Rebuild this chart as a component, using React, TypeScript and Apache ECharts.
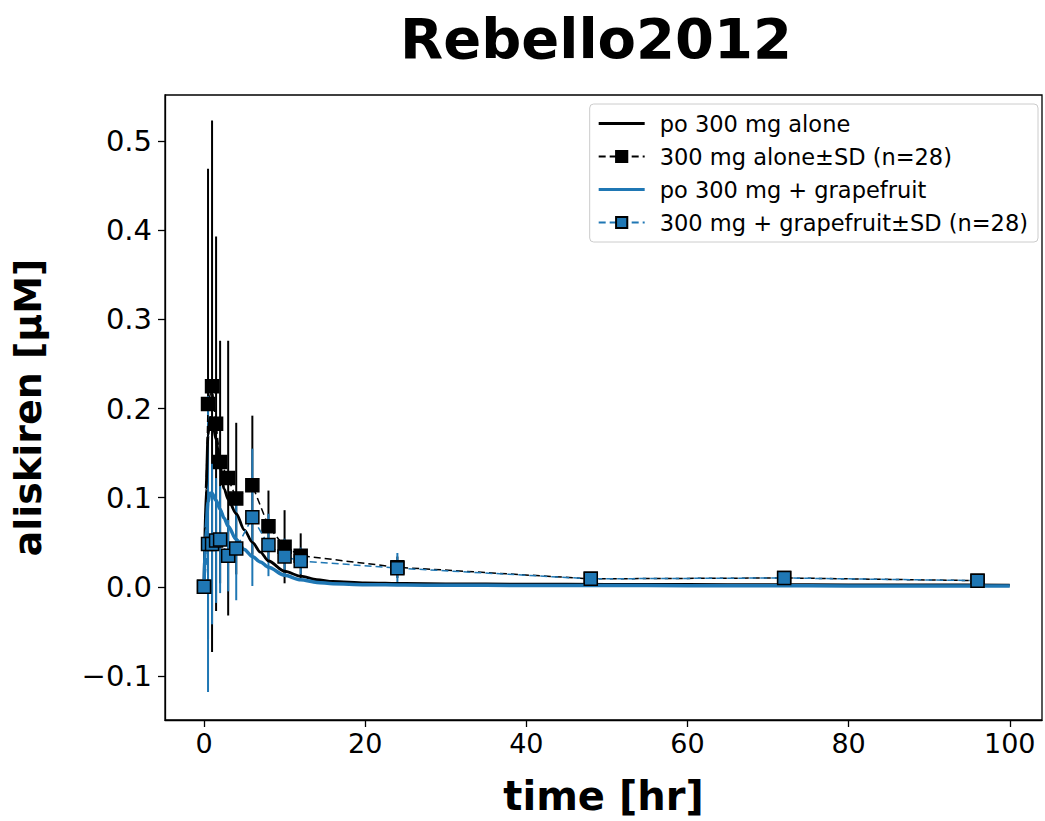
import React, { useEffect, useRef } from "react";
import * as echarts from "echarts";

// Observed sampling times [hr]
const times = [0, 0.5, 1, 1.5, 2, 3, 4, 6, 8, 10, 12, 24, 48, 72, 96];
// 300 mg alone: mean and SD [µM]
const aloneMean = [0, 0.205, 0.225, 0.183, 0.14, 0.122, 0.099, 0.114, 0.068, 0.045, 0.035, 0.022, 0.009, 0.01, 0.007];
const aloneSD = [0, 0.264, 0.298, 0.21, 0.136, 0.154, 0.085, 0.078, 0.04, 0.041, 0.025, 0.012, 0.003, 0.005, 0.003];
// 300 mg + grapefruit: mean and SD [µM]
const grapeMean = [0, 0.048, 0.048, 0.052, 0.053, 0.035, 0.043, 0.078, 0.047, 0.034, 0.029, 0.021, 0.009, 0.01, 0.007];
const grapeSD = [0, 0.166, 0.09, 0.07, 0.06, 0.04, 0.058, 0.077, 0.035, 0.02, 0.015, 0.017, 0.003, 0.006, 0.003];

// Simulated curves
const curveT = [0, 0.25, 0.5, 0.75, 1, 1.5, 2, 2.5, 3, 4, 5, 6, 7, 8, 10, 12, 14, 16, 20, 25, 30, 40, 50, 60, 70, 80, 90, 100];
const aloneCurve = [0, 0.11, 0.17, 0.19, 0.188, 0.165, 0.135, 0.11, 0.098, 0.082, 0.064, 0.05, 0.039, 0.029, 0.0175, 0.012, 0.008, 0.006, 0.0045, 0.0038, 0.0034, 0.0031, 0.0029, 0.0027, 0.0025, 0.0023, 0.0021, 0.002];
const grapeCurve = [0, 0.065, 0.095, 0.105, 0.105, 0.097, 0.087, 0.077, 0.068, 0.053, 0.042, 0.034, 0.028, 0.022, 0.013, 0.008, 0.005, 0.0035, 0.0025, 0.002, 0.0018, 0.0016, 0.0015, 0.0013, 0.0012, 0.0011, 0.001, 0.001];

const xTicks = [0, 20, 40, 60, 80, 100];
const yTicks = [-0.1, 0, 0.1, 0.2, 0.3, 0.4, 0.5];

const FONT = "DejaVu Sans";
const BLUE = "#1f77b4";
const LINE_ICON = "path://M0,0 H46 V3 H0 Z";

function errorRender(color: string) {
  return (params: any, api: any) => {
    const p1 = api.coord([api.value(0), api.value(1)]);
    const p2 = api.coord([api.value(0), api.value(2)]);
    return {
      type: "line",
      shape: { x1: p1[0], y1: p1[1], x2: p2[0], y2: p2[1] },
      style: { stroke: color, lineWidth: 2 },
    };
  };
}

export default function App() {
  const ref = useRef<HTMLDivElement>(null);
  useEffect(() => {
    if (!ref.current) return;
    const chart = echarts.init(ref.current, undefined, { renderer: "svg" });
    const zip = (a: number[], b: number[]) => a.map((v, i) => [v, b[i]]);
    const err = (m: number[], s: number[]) => times.map((t, i) => [t, m[i] - s[i], m[i] + s[i]]);
    const option: any = {
      animation: false,
      backgroundColor: "#fff",
      title: {
        text: "Rebello2012",
        left: 591,
        top: 5,
        textAlign: "center",
        textStyle: { fontFamily: FONT, fontWeight: "bold", fontSize: 56, color: "#000" },
      },
      grid: {
        left: 165,
        right: 3,
        top: 95,
        bottom: 101,
        show: true,
        borderColor: "#000",
        borderWidth: 1.3,
        containLabel: false,
      },
      legend: {
        orient: "vertical",
        right: 7,
        top: 104,
        padding: [8, 10, 8, 8],
        itemGap: 10,
        itemWidth: 46,
        itemHeight: 14,
        borderColor: "#cccccc",
        borderWidth: 1,
        borderRadius: 4,
        backgroundColor: "rgba(255,255,255,0.85)",
        textStyle: { fontFamily: FONT, fontSize: 22.5, color: "#000", padding: [0, 0, 0, 10] },
        data: [
          { name: "po 300 mg alone", icon: LINE_ICON },
          { name: "300 mg alone±SD (n=28)" },
          { name: "po 300 mg + grapefruit", icon: LINE_ICON },
          { name: "300 mg + grapefruit±SD (n=28)" },
        ],
      },
      xAxis: {
        type: "value",
        min: -4.84,
        max: 104.0,
        name: "time [hr]",
        nameLocation: "middle",
        nameGap: 56,
        nameTextStyle: { fontFamily: FONT, fontWeight: "bold", fontSize: 40, color: "#000" },
        axisLine: { show: true, onZero: false, lineStyle: { color: "#000", width: 1.3 } },
        axisTick: { show: true, length: 7, customValues: xTicks, lineStyle: { color: "#000", width: 1.3 } },
        axisLabel: {
          customValues: xTicks,
          fontFamily: FONT,
          fontSize: 27,
          color: "#000",
          margin: 10,
          formatter: (v: number) => String(Math.round(v)),
        },
        splitLine: { show: false },
      },
      yAxis: {
        type: "value",
        min: -0.1493,
        max: 0.5516,
        name: "aliskiren [µM]",
        nameLocation: "middle",
        nameRotate: 90,
        nameGap: 118,
        nameTextStyle: { fontFamily: FONT, fontWeight: "bold", fontSize: 38, color: "#000" },
        axisLine: { show: true, onZero: false, lineStyle: { color: "#000", width: 1.3 } },
        axisTick: { show: true, length: 7, customValues: yTicks, lineStyle: { color: "#000", width: 1.3 } },
        axisLabel: {
          customValues: yTicks,
          fontFamily: FONT,
          fontSize: 29,
          color: "#000",
          margin: 13,
          formatter: (v: number) => (v < -1e-9 ? "\u2212" + Math.abs(v).toFixed(1) : Math.abs(v).toFixed(1)),
        },
        splitLine: { show: false },
      },
      series: [
        {
          name: "errAlone",
          type: "custom",
          z: 1,
          renderItem: errorRender("#000"),
          encode: { x: 0, y: [1, 2] },
          data: err(aloneMean, aloneSD),
        },
        {
          name: "errGrape",
          type: "custom",
          z: 1,
          renderItem: errorRender(BLUE),
          encode: { x: 0, y: [1, 2] },
          data: err(grapeMean, grapeSD),
        },
        {
          name: "po 300 mg alone",
          type: "line",
          z: 2,
          data: zip(curveT, aloneCurve),
          symbol: "none",
          smooth: 0.3,
          smoothMonotone: "x",
          lineStyle: { color: "#000", width: 2.8 },
          itemStyle: { color: "#000" },
        },
        {
          name: "300 mg alone±SD (n=28)",
          type: "line",
          z: 3,
          data: zip(times, aloneMean),
          symbol: "rect",
          symbolSize: 13,
          lineStyle: { color: "#000", width: 1.5, type: [7, 4] },
          itemStyle: { color: "#000", borderColor: "#000", borderWidth: 1.5 },
        },
        {
          name: "po 300 mg + grapefruit",
          type: "line",
          z: 4,
          data: zip(curveT, grapeCurve),
          symbol: "none",
          smooth: 0.3,
          smoothMonotone: "x",
          lineStyle: { color: BLUE, width: 3.5 },
          itemStyle: { color: BLUE },
        },
        {
          name: "300 mg + grapefruit±SD (n=28)",
          type: "line",
          z: 5,
          data: zip(times, grapeMean),
          symbol: "rect",
          symbolSize: 13,
          lineStyle: { color: BLUE, width: 1.5, type: [7, 4] },
          itemStyle: { color: BLUE, borderColor: "#000", borderWidth: 1.5 },
        },
      ],
    };
    chart.setOption(option);
    return () => chart.dispose();
  }, []);
  return (
    <div
      ref={ref}
      style={{ position: "absolute", left: 0, top: 0, width: 1045, height: 821, background: "#fff" }}
    />
  );
}
